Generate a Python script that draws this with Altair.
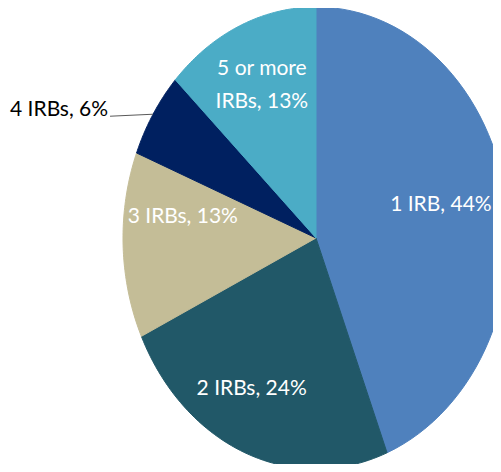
import altair as alt
import pandas as pd

# ---- data -------------------------------------------------------------
categories = ["1 IRB", "2 IRBs", "3 IRBs", "4 IRBs", "5 or more IRBs"]
shares = [44, 24, 13, 6, 13]
labels = ["1 IRB, 44%", "2 IRBs, 24%", "3 IRBs, 13%", "4 IRBs, 6%", "5 or more\nIRBs, 13%"]
colors = ["#4F81BD", "#215868", "#C4BD97", "#002060", "#4BACC6"]

df = pd.DataFrame({"idx": list(range(len(categories))), "cat": categories,
                   "share": shares, "label": labels})

# ---- geometry / style constants (page pixels) -------------------------
CX, CY, RX, RY = 316, 238, 193, 231
STEPS = 60
W, H = 485, 456
X0, Y0 = 8, 8
LABEL_R = 0.68
FONT = "Lato"
FS = 21
nudge_x = {"1 IRB": -4, "2 IRBs": -16, "3 IRBs": -2, "5 or more IRBs": -2}
nudge_y = {"1 IRB": -4, "2 IRBs": 5, "3 IRBs": -26, "5 or more IRBs": -25}


def lookup_expr(d):
    e = "0"
    for k, v in d.items():
        e = f"datum.cat == '{k}' ? {v} : ({e})"
    return e


xs = alt.Scale(domain=[X0, X0 + W])
ys = alt.Scale(domain=[Y0, Y0 + H], reverse=True)
cscale = alt.Scale(domain=categories, range=colors)

base = alt.Chart(df).transform_joinaggregate(
    total="sum(share)"
).transform_window(
    cum="sum(share)", sort=[alt.SortField("idx")], frame=[None, 0]
).transform_calculate(
    a0="2*PI*(datum.cum - datum.share)/datum.total",
    a1="2*PI*datum.cum/datum.total",
).transform_calculate(
    mid="(datum.a0 + datum.a1)/2"
)

pie = base.transform_calculate(
    seq=f"sequence(-1, {STEPS + 1})"
).transform_flatten(["seq"]).transform_calculate(
    ang=f"datum.a0 + (datum.a1 - datum.a0) * max(datum.seq, 0) / {STEPS}",
).transform_calculate(
    px=f"datum.seq < 0 ? {CX} : {CX} + {RX} * sin(datum.ang)",
    py=f"datum.seq < 0 ? {CY} : {CY} - {RY} * cos(datum.ang)",
).mark_line(interpolate="linear-closed", clip=True, strokeWidth=1).encode(
    x=alt.X("px:Q", scale=xs, axis=None),
    y=alt.Y("py:Q", scale=ys, axis=None),
    fill=alt.Fill("cat:N", scale=cscale, legend=None),
    stroke=alt.Stroke("cat:N", scale=cscale, legend=None),
    order=alt.Order("seq:Q"),
)

inner = base.transform_filter(
    "datum.cat != '4 IRBs'"
).transform_calculate(
    lx=f"{CX} + {LABEL_R}*{RX}*sin(datum.mid) + ({lookup_expr(nudge_x)})",
    ly=f"{CY} - {LABEL_R}*{RY}*cos(datum.mid) + ({lookup_expr(nudge_y)})",
).mark_text(
    font=FONT, fontSize=FS, color="#FFFFFF", align="center", baseline="middle",
    lineBreak="\n", lineHeight=33,
).encode(
    x=alt.X("lx:Q", scale=xs, axis=None),
    y=alt.Y("ly:Q", scale=ys, axis=None),
    text="label:N",
)

outer_base = base.transform_filter(
    "datum.cat == '4 IRBs'"
).transform_calculate(
    ex=f"{CX} + {RX}*sin(datum.mid)",
    ey=f"{CY} - {RY}*cos(datum.mid)",
).transform_calculate(
    ex2="datum.ex - 43",
    ey2="datum.ey + 2",
    tx="datum.ex - 45",
)

leader = outer_base.mark_rule(color="#595959", strokeWidth=1).encode(
    x=alt.X("ex:Q", scale=xs, axis=None),
    x2="ex2:Q",
    y=alt.Y("ey:Q", scale=ys, axis=None),
    y2="ey2:Q",
)

outer_text = outer_base.mark_text(
    font=FONT, fontSize=FS, color="#000000", align="right", baseline="alphabetic",
).encode(
    x=alt.X("tx:Q", scale=xs, axis=None),
    y=alt.Y("ey2:Q", scale=ys, axis=None),
    text="label:N",
)

chart = alt.layer(pie, leader, inner, outer_text).properties(
    width=W, height=H, padding=0, autosize="none"
).configure_view(strokeWidth=0)

chart.save("out.html", embed_options={"renderer": "svg", "actions": False})
